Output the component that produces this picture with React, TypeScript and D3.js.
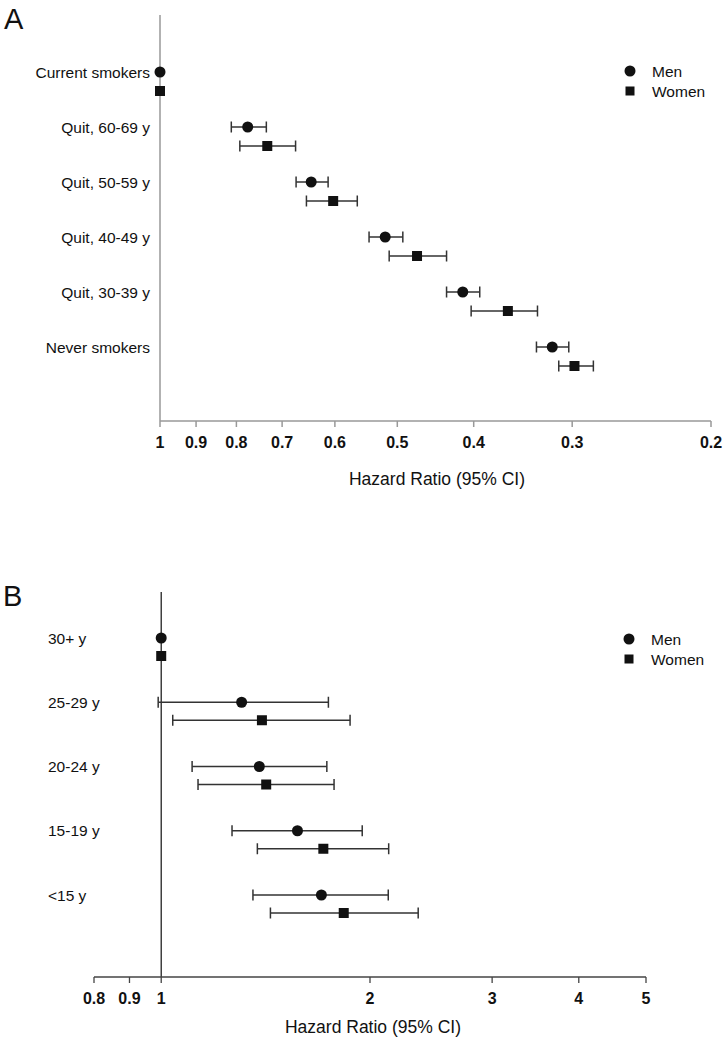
import * as d3 from 'd3';
import React from 'react';

// Panel A: time since quitting
const groupsA = ['Current smokers', 'Quit, 60-69 y', 'Quit, 50-59 y', 'Quit, 40-49 y', 'Quit, 30-39 y', 'Never smokers'];
const menA = [1, 0.774, 0.643, 0.518, 0.413, 0.318];
const menLoA = [1, 0.733, 0.612, 0.492, 0.393, 0.303];
const menHiA = [1, 0.812, 0.672, 0.543, 0.433, 0.333];
const womenA = [1, 0.731, 0.603, 0.472, 0.362, 0.298];
const womenLoA = [1, 0.673, 0.562, 0.433, 0.332, 0.282];
const womenHiA = [1, 0.792, 0.652, 0.512, 0.403, 0.312];
const ticksA = [1, 0.9, 0.8, 0.7, 0.6, 0.5, 0.4, 0.3, 0.2];

// Panel B: age at starting
const groupsB = ['30+ y', '25-29 y', '20-24 y', '15-19 y', '<15 y'];
const menB = [1, 1.306, 1.385, 1.572, 1.702];
const menLoB = [1, 0.99, 1.108, 1.265, 1.356];
const menHiB = [1, 1.742, 1.733, 1.949, 2.125];
const womenB = [1, 1.397, 1.417, 1.713, 1.833];
const womenLoB = [1, 1.039, 1.13, 1.376, 1.437];
const womenHiB = [1, 1.872, 1.775, 2.128, 2.347];
const ticksB = [0.8, 0.9, 1, 2, 3, 4, 5];

const font = 'Arial, "Liberation Sans", sans-serif';
const barColor = '#333';

function ErrorRow({ x, y, est, lo, hi, shape }) {
  const cx = x(est);
  const hasCI = lo !== hi;
  return (
    <g>
      {hasCI && (
        <g stroke={barColor} strokeWidth={1.5}>
          <line x1={x(lo)} x2={x(hi)} y1={y} y2={y} />
          <line x1={x(lo)} x2={x(lo)} y1={y - 5.5} y2={y + 5.5} />
          <line x1={x(hi)} x2={x(hi)} y1={y - 5.5} y2={y + 5.5} />
        </g>
      )}
      {shape === 'circle'
        ? <circle cx={cx} cy={y} r={5.5} fill="#111" />
        : <rect x={cx - 5} y={y - 5} width={10} height={10} fill="#111" />}
    </g>
  );
}

function Legend({ x, y }) {
  return (
    <g fontFamily={font} fontSize={15.5} fill="#111">
      <circle cx={x} cy={y} r={5.5} fill="#111" />
      <text x={x + 22} y={y + 5.5}>Men</text>
      <rect x={x - 4.5} y={y + 15.5} width={9} height={9} fill="#111" />
      <text x={x + 22} y={y + 25.5}>Women</text>
    </g>
  );
}

const App = () => {
  // panel A scales
  const xA = d3.scaleLog().domain([1, 0.2]).range([160, 711]);
  const yA = d3.scalePoint().domain(groupsA).range([72, 347]);
  const axisYA = 421;

  // panel B scales
  const xB = d3.scaleLog().domain([0.8, 5]).range([94, 646]);
  const yB = d3.scalePoint().domain(groupsB).range([638, 895]);
  const axisYB = 977;

  const fmtA = (d) => (d === 1 ? '1' : d3.format('.1f')(d));
  const fmtB = (d) => (d >= 1 ? String(d) : d3.format('.1f')(d));

  return (
    <svg width={726} height={1050} style={{ position: 'absolute', left: 0, top: 0, background: '#fff' }}>
      {/* Panel A */}
      <text x={4} y={29} fontFamily={font} fontSize={29} fill="#111">A</text>
      <line x1={xA(1)} x2={xA(1)} y1={15} y2={axisYA} stroke="#999" strokeWidth={1.5} />
      <line x1={xA(1)} x2={xA(0.2)} y1={axisYA} y2={axisYA} stroke="#999" strokeWidth={1.5} />
      {ticksA.map((t) => (
        <g key={'ta' + t}>
          <line x1={xA(t)} x2={xA(t)} y1={axisYA} y2={axisYA + 6} stroke="#999" strokeWidth={1.5} />
          <text x={xA(t)} y={axisYA + 27} textAnchor="middle" fontFamily={font} fontSize={16} fontWeight="bold" fill="#111">{fmtA(t)}</text>
        </g>
      ))}
      <text x={437} y={485} textAnchor="middle" fontFamily={font} fontSize={17.5} fill="#111">Hazard Ratio (95% CI)</text>
      {groupsA.map((g, i) => (
        <g key={g}>
          <text x={150} y={yA(g) + 5.5} textAnchor="end" fontFamily={font} fontSize={15.5} fill="#111">{g}</text>
          <ErrorRow x={xA} y={yA(g)} est={menA[i]} lo={menLoA[i]} hi={menHiA[i]} shape="circle" />
          <ErrorRow x={xA} y={yA(g) + 19} est={womenA[i]} lo={womenLoA[i]} hi={womenHiA[i]} shape="square" />
        </g>
      ))}
      <Legend x={630} y={71} />

      {/* Panel B */}
      <text x={3} y={606} fontFamily={font} fontSize={29} fill="#111">B</text>
      <line x1={xB(1)} x2={xB(1)} y1={592} y2={axisYB} stroke="#222" strokeWidth={1.3} />
      <line x1={xB(0.8)} x2={xB(5)} y1={axisYB} y2={axisYB} stroke="#444" strokeWidth={1.3} />
      {ticksB.map((t) => (
        <g key={'tb' + t}>
          <line x1={xB(t)} x2={xB(t)} y1={axisYB} y2={axisYB + 6} stroke="#444" strokeWidth={1.3} />
          <text x={xB(t)} y={axisYB + 27} textAnchor="middle" fontFamily={font} fontSize={16} fontWeight="bold" fill="#111">{fmtB(t)}</text>
        </g>
      ))}
      <text x={373} y={1033} textAnchor="middle" fontFamily={font} fontSize={17.5} fill="#111">Hazard Ratio (95% CI)</text>
      {groupsB.map((g, i) => (
        <g key={g}>
          <text x={48} y={yB(g) + 5.5} fontFamily={font} fontSize={15.5} fill="#111">{g}</text>
          <ErrorRow x={xB} y={yB(g)} est={menB[i]} lo={menLoB[i]} hi={menHiB[i]} shape="circle" />
          <ErrorRow x={xB} y={yB(g) + 18} est={womenB[i]} lo={womenLoB[i]} hi={womenHiB[i]} shape="square" />
        </g>
      ))}
      <Legend x={629} y={639} />
    </svg>
  );
};

export default App;
